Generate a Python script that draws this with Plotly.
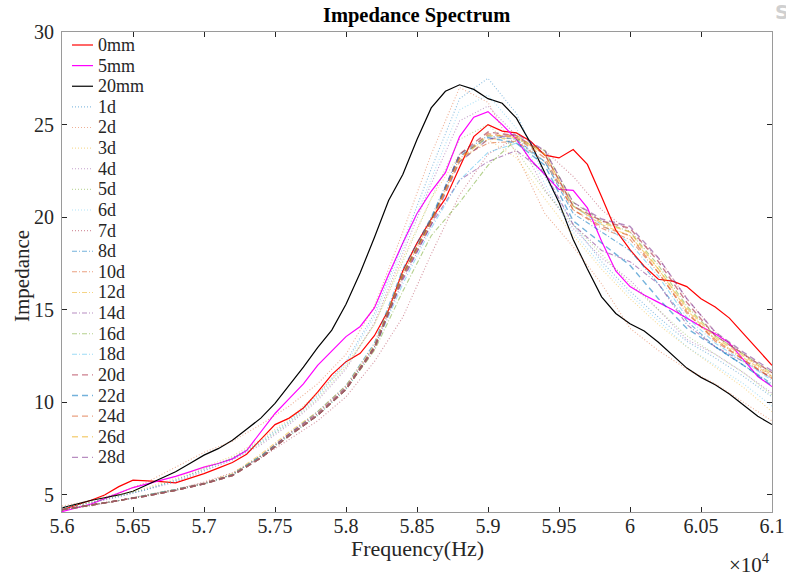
import plotly.graph_objects as go

# ---------------- data ----------------
freq_fine = list(range(56000, 61001, 100))     # 51 points (Hz)
freq_coarse = list(range(56000, 61001, 200))   # 26 points (Hz)

imp_0mm = [4.2, 4.45, 4.7, 5.0, 5.45, 5.8, 5.78, 5.72, 5.65, 5.9,
           6.15, 6.45, 6.75, 7.2, 8.0, 8.8, 9.15, 9.7, 10.55, 11.5,
           12.2, 12.65, 13.6, 15.0, 17.1, 18.6, 19.9, 21.0, 22.7, 24.35,
           25.0, 24.65, 24.55, 24.1, 23.35, 23.2, 23.65, 22.85, 21.1, 19.3,
           18.25, 17.35, 16.65, 16.55, 16.25, 15.6, 15.15, 14.55, 13.7, 12.85, 12.0]
imp_5mm = [4.1, 4.3, 4.5, 4.8, 5.1, 5.4, 5.6, 5.8, 6.0, 6.25,
           6.5, 6.7, 6.95, 7.4, 8.4, 9.4, 10.2, 11.0, 12.0, 12.8,
           13.55, 14.1, 15.1, 16.9, 18.6, 20.2, 21.4, 22.4, 24.35, 25.4,
           25.7, 25.0, 24.2, 23.1, 22.3, 21.5, 21.45, 20.5, 18.7, 17.1,
           16.25, 15.8, 15.4, 15.0, 14.55, 14.1, 13.7, 13.2, 12.3, 11.4, 10.85]
imp_20mm = [4.3, 4.5, 4.7, 4.85, 5.0, 5.2, 5.55, 5.9, 6.25, 6.7,
            7.15, 7.5, 7.95, 8.55, 9.15, 9.95, 10.9, 11.9, 12.95, 13.9,
            15.3, 17.0, 18.9, 20.9, 22.3, 24.2, 25.9, 26.8, 27.15, 26.9,
            26.4, 26.15, 25.35, 24.0, 22.4, 20.8, 18.8, 17.2, 15.7, 14.8,
            14.25, 13.85, 13.25, 12.55, 11.85, 11.35, 10.95, 10.45, 9.85, 9.25, 8.8]

imp_1d = [4.3, 4.6, 4.95, 5.3, 5.8, 6.4, 7.0, 7.9, 9.0, 10.4, 12.2, 14.8, 18.6, 22.6, 26.4, 27.5, 25.6, 22.2, 19.6, 17.6, 16.0, 14.6, 13.3, 12.4, 11.4, 10.3]
imp_2d = [4.4, 4.7, 5.1, 5.7, 6.5, 7.3, 7.9, 8.8, 9.8, 11.0, 12.6, 15.2, 19.2, 23.4, 27.0, 26.2, 23.4, 20.2, 18.4, 16.4, 14.0, 12.8, 11.8, 11.0, 10.0, 9.0]
imp_3d = [4.3, 4.6, 5.0, 5.4, 5.9, 6.5, 7.1, 8.0, 9.1, 10.5, 12.0, 14.2, 17.8, 21.0, 23.4, 24.2, 23.2, 21.0, 19.0, 17.2, 15.6, 14.2, 13.0, 11.9, 10.8, 9.5]
imp_4d = [4.3, 4.55, 4.9, 5.3, 5.7, 6.3, 6.9, 7.7, 8.8, 10.1, 11.8, 14.3, 18.0, 21.8, 25.2, 26.0, 24.4, 21.5, 19.4, 17.8, 16.6, 15.0, 13.4, 12.6, 11.6, 10.5]
imp_5d = [4.3, 4.6, 4.95, 5.35, 5.8, 6.4, 7.0, 7.8, 8.9, 10.2, 11.9, 14.2, 17.6, 21.0, 24.2, 25.0, 23.6, 21.4, 19.6, 18.0, 16.4, 15.0, 13.6, 12.6, 11.6, 10.4]
imp_6d = [4.3, 4.6, 4.9, 5.3, 5.75, 6.3, 6.9, 7.8, 8.9, 10.3, 12.1, 14.6, 18.3, 22.0, 25.8, 26.6, 24.8, 21.8, 19.2, 17.4, 15.8, 14.4, 13.0, 12.0, 11.0, 9.8]
imp_7d = [4.2, 4.4, 4.7, 5.0, 5.3, 5.7, 6.2, 7.0, 8.0, 9.0, 10.3, 12.2, 14.6, 18.0, 21.2, 23.4, 24.3, 23.6, 22.2, 20.4, 19.2, 17.8, 15.6, 13.8, 12.6, 11.4]
imp_8d = [4.2, 4.45, 4.7, 4.95, 5.25, 5.6, 6.1, 7.1, 8.3, 9.5, 10.9, 13.2, 17.2, 20.0, 23.4, 24.4, 24.2, 23.0, 20.2, 19.2, 18.2, 16.4, 14.4, 13.0, 12.0, 11.0]
imp_10d = [4.2, 4.45, 4.7, 4.95, 5.25, 5.6, 6.1, 7.1, 8.3, 9.4, 10.8, 13.0, 16.9, 19.8, 23.2, 24.0, 24.1, 23.0, 20.4, 19.4, 18.8, 17.0, 14.8, 13.4, 12.3, 11.3]
imp_12d = [4.2, 4.45, 4.7, 5.0, 5.3, 5.65, 6.15, 7.2, 8.4, 9.5, 10.9, 13.1, 17.0, 19.9, 23.0, 24.2, 24.3, 23.4, 20.6, 19.6, 19.0, 17.2, 15.0, 13.4, 12.4, 11.4]
imp_14d = [4.2, 4.45, 4.7, 5.0, 5.3, 5.65, 6.1, 7.1, 8.3, 9.4, 10.8, 13.0, 16.6, 19.6, 22.0, 23.0, 23.6, 22.4, 19.6, 18.2, 17.6, 16.4, 14.2, 13.0, 12.2, 11.3]
imp_16d = [4.2, 4.45, 4.7, 5.0, 5.3, 5.6, 6.1, 7.1, 8.2, 9.3, 10.7, 12.8, 16.0, 19.0, 20.8, 22.8, 24.2, 23.6, 20.8, 19.8, 19.2, 17.4, 15.2, 13.6, 12.6, 11.6]
imp_18d = [4.2, 4.45, 4.7, 5.0, 5.3, 5.6, 6.1, 7.1, 8.2, 9.3, 10.7, 12.9, 16.4, 19.4, 22.0, 23.5, 24.0, 23.0, 20.6, 19.6, 18.6, 16.8, 14.6, 13.2, 12.2, 11.2]
imp_20d = [4.2, 4.45, 4.7, 4.95, 5.25, 5.6, 6.05, 7.0, 8.2, 9.3, 10.7, 12.9, 16.8, 19.8, 23.4, 24.6, 24.4, 23.4, 20.6, 19.8, 19.4, 17.6, 15.4, 13.6, 12.6, 11.6]
imp_22d = [4.2, 4.45, 4.7, 4.95, 5.25, 5.6, 6.05, 7.0, 8.2, 9.3, 10.7, 13.0, 16.9, 19.9, 23.3, 24.3, 24.0, 22.8, 19.8, 18.6, 17.4, 15.6, 14.0, 13.0, 12.0, 10.9]
imp_24d = [4.2, 4.45, 4.7, 4.95, 5.25, 5.6, 6.05, 7.0, 8.2, 9.3, 10.7, 13.0, 16.9, 19.8, 23.2, 24.5, 24.3, 23.2, 20.4, 19.5, 19.0, 17.0, 14.9, 13.3, 12.3, 11.3]
imp_26d = [4.2, 4.45, 4.7, 4.95, 5.25, 5.6, 6.05, 7.0, 8.2, 9.3, 10.7, 12.9, 16.8, 19.7, 23.1, 24.4, 24.4, 23.4, 20.6, 19.7, 19.2, 17.2, 15.1, 13.5, 12.5, 11.5]
imp_28d = [4.2, 4.45, 4.7, 4.95, 5.25, 5.6, 6.05, 7.0, 8.2, 9.3, 10.7, 12.9, 16.7, 19.6, 23.0, 24.2, 24.5, 23.6, 20.8, 19.9, 19.5, 17.8, 15.6, 13.8, 12.7, 11.7]

x_tick_vals = [56000, 56500, 57000, 57500, 58000, 58500, 59000, 59500, 60000, 60500, 61000]
x_tick_text = ["5.6", "5.65", "5.7", "5.75", "5.8", "5.85", "5.9", "5.95", "6", "6.05", "6.1"]
y_tick_vals = [5, 10, 15, 20, 25, 30]

# ---------------- styling ----------------
FONT = "Liberation Serif"
TXT = "#262626"
W, H = 786, 579
ML, MR, MT, MB = 62, 14, 32, 67
PW, PH = W - ML - MR, H - MT - MB

BLUE, ORANGE, YELLOW = (0, 114, 189), (217, 83, 25), (237, 177, 32)
PURPLE, GREEN, CYAN, DRED = (126, 47, 142), (119, 172, 48), (77, 190, 238), (162, 20, 47)
cycle = [BLUE, ORANGE, YELLOW, PURPLE, GREEN, CYAN, DRED]

def rgba(c, a):
    return "rgba(%d,%d,%d,%.2f)" % (c[0], c[1], c[2], a)

def px_x(p):
    return (p - ML) / PW

def px_y(p):
    return (MT + PH - p) / PH

series = []  # (name, x, y, line dict)
for name, vals, col in [("0mm", imp_0mm, "#ff0000"), ("5mm", imp_5mm, "#ff00ff"), ("20mm", imp_20mm, "#000000")]:
    series.append((name, freq_fine, vals, dict(color=col, width=1.2)))

for i, (name, vals) in enumerate([("1d", imp_1d), ("2d", imp_2d), ("3d", imp_3d), ("4d", imp_4d),
                                   ("5d", imp_5d), ("6d", imp_6d), ("7d", imp_7d)]):
    series.append((name, freq_coarse, vals, dict(color=rgba(cycle[i % 7], 0.45), width=1.1, dash="1px,2px")))

for i, (name, vals) in enumerate([("8d", imp_8d), ("10d", imp_10d), ("12d", imp_12d), ("14d", imp_14d),
                                   ("16d", imp_16d), ("18d", imp_18d)]):
    series.append((name, freq_coarse, vals, dict(color=rgba(cycle[i % 7], 0.55), width=1.1, dash="5px,2px,1px,2px")))

for i, (name, vals) in enumerate([("20d", imp_20d), ("22d", imp_22d), ("24d", imp_24d),
                                   ("26d", imp_26d), ("28d", imp_28d)]):
    series.append((name, freq_coarse, vals, dict(color=rgba(cycle[(i + 6) % 7], 0.55), width=1.4, dash="6px,4px")))

fig = go.Figure()
for name, xs, ys, ln in series:
    fig.add_trace(go.Scatter(x=xs, y=ys, mode="lines", name=name, line=ln, showlegend=False))

# compact MATLAB-style legend (samples + labels)
shapes, annotations = [], []
LEG_TOP, LEG_STEP = 45.0, 20.62
for i, (name, xs, ys, ln) in enumerate(series):
    yc = LEG_TOP + i * LEG_STEP
    shapes.append(dict(type="line", xref="paper", yref="paper",
                       x0=px_x(72), x1=px_x(93), y0=px_y(yc), y1=px_y(yc), line=ln))
    annotations.append(dict(text=name, xref="paper", yref="paper", x=px_x(96), y=px_y(yc),
                            xanchor="left", yanchor="middle", showarrow=False,
                            font=dict(family=FONT, size=18, color=TXT)))

annotations += [
    dict(text="Frequency(Hz)", xref="paper", yref="paper", x=0.5, y=px_y(548),
         xanchor="center", yanchor="middle", showarrow=False,
         font=dict(family=FONT, size=22, color=TXT)),
    dict(text="Impedance", xref="paper", yref="paper", x=px_x(22), y=px_y(276), textangle=-90,
         xanchor="center", yanchor="middle", showarrow=False,
         font=dict(family=FONT, size=21, color=TXT)),
    dict(text="×10<sup>4</sup>", xref="paper", yref="paper", x=1.0, y=px_y(563),
         xanchor="right", yanchor="middle", showarrow=False,
         font=dict(family=FONT, size=21, color=TXT)),
    dict(text="<b>S</b>", xref="paper", yref="paper", x=px_x(773), y=px_y(12), xanchor="left",
         yanchor="middle", showarrow=False, font=dict(family="DejaVu Sans", size=20, color="#d0d0d0")),
]

axis_common = dict(showgrid=False, zeroline=False, showline=True, linecolor="#9a9a9a", linewidth=1,
                   mirror="ticks", ticks="inside", ticklen=5, tickcolor=TXT, tickwidth=1,
                   automargin=False, tickfont=dict(family=FONT, size=20, color=TXT))

fig.update_xaxes(range=[56000, 61000], tickvals=x_tick_vals, ticktext=x_tick_text,
                 ticklabelstandoff=-4, **axis_common)
fig.update_yaxes(range=[4.08, 30], tickvals=y_tick_vals, ticklabelstandoff=3, **axis_common)

fig.update_layout(
    width=W, height=H,
    margin=dict(l=ML, r=MR, t=MT, b=MB, autoexpand=False),
    paper_bgcolor="white", plot_bgcolor="white",
    title=dict(text="<b>Impedance Spectrum</b>", x=0.53, xanchor="center", y=0.975, yanchor="middle",
               font=dict(family=FONT, size=20.5, color="black")),
    showlegend=False,
    shapes=shapes,
    annotations=annotations,
)

fig.write_html("out.html", config={"displayModeBar": False},
               post_script="document.body.style.margin='0px';")
